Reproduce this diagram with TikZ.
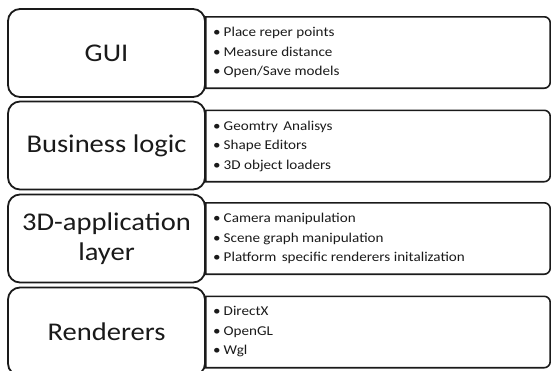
\documentclass[tikz,border=0pt]{standalone}
\usepackage{fontspec}
\setmainfont{Carlito}[FakeStretch=1.12]
\definecolor{ink}{HTML}{1A1A1A}
\tikzset{
  leftbox/.style={draw=ink, line width=1.8pt, rounded corners=12pt, fill=white,
    minimum width=197pt, minimum height=88pt, inner sep=0pt, align=center,
    text=ink, font=\fontsize{25.5}{30}\selectfont},
  rightframe/.style={minimum width=344pt, minimum height=71pt, inner sep=0pt},
  rline/.style={draw=ink, line width=1.6pt},
  blist/.style={anchor=west, inner sep=0pt, align=left, text=ink,
    font=\fontsize{13.5}{19.5}\selectfont},
}
\newcommand{\bul}{\textbullet\hspace{3pt}}
\begin{document}
\begin{tikzpicture}[x=1pt,y=-1pt]
\useasboundingbox (0,0) rectangle (551,370);
\clip (0,0) rectangle (551,370);
% right frames
\foreach \n/\cy in {r1/52.5, r2/146, r3/238.5, r4/332}{
  \node[rightframe] (\n) at (378,\cy) {};
  \draw[rline] (\n.south west) -- (\n.north west) -- (\n.north)
     [rounded corners=6pt] -- (\n.north east) -- (\n.south east) -- (\n.south)
     [sharp corners] -- cycle;
}
% left boxes
\node[leftbox] (l1) at (106.5,53) {GUI};
\node[leftbox] (l2) at (106.5,145.5) {Business logic};
\node[leftbox] (l3) at (106.5,238.5) {3D-application\\layer};
\node[leftbox] (l4) at (106.5,331.5) {Renderers};
% bullet lists
\node[blist] (t1) at (213,52.5) {\bul Place reper points\\\bul Measure distance\\\bul Open/Save models};
\node[blist] (t2) at (213,146) {\bul Geomtry\hspace{2pt} Analisys\\\bul Shape Editors\\\bul 3D object loaders};
\node[blist] (t3) at (213,238.5) {\bul Camera manipulation\\\bul Scene graph manipulation\\\bul Platform\hspace{2pt} specific renderers initalization};
\node[blist] (t4) at (213,332) {\bul DirectX\\\bul OpenGL\\\bul Wgl};
\end{tikzpicture}
\end{document}
